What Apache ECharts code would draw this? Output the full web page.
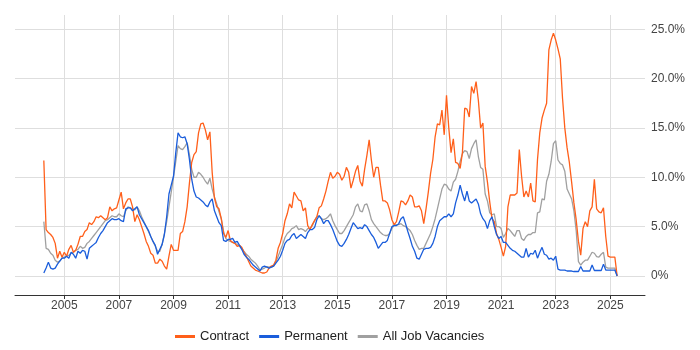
<!DOCTYPE html>
<html>
<head>
<meta charset="utf-8">
<script src="https://cdn.jsdelivr.net/npm/echarts@6/dist/echarts.min.js"></script>
<style>html,body{margin:0;padding:0;background:#fff}#c{width:700px;height:350px}</style>
</head>
<body>
<div id="c"></div>
<script>
// Monthly series, first point April 2004, last point April 2025
const startYear = 2004, startMonth = 4;
const contract = [
11.7,4.7,4.4,4.2,3.9,3.3,1.8,2.5,1.9,2.4,
2.0,2.7,3.1,2.4,2.6,3.2,4.0,4.0,4.5,4.7,
5.4,5.2,5.5,6.0,5.9,6.1,5.9,5.7,5.9,7.0,
6.6,6.8,6.9,7.7,8.5,6.8,7.4,7.8,7.8,7.0,
5.5,6.2,5.7,5.0,4.3,3.5,3.0,2.3,2.1,1.3,
1.3,1.7,1.5,1.0,0.7,2.0,3.2,2.6,2.6,2.6,
4.3,4.5,5.5,7.0,9.4,11.5,12.3,12.6,14.5,15.4,
15.5,14.8,13.8,14.6,10.5,7.9,7.0,6.8,5.8,4.3,
3.9,4.6,3.6,3.4,3.3,3.0,3.1,2.9,2.4,2.0,
1.5,1.0,0.8,0.6,0.5,0.4,0.3,0.3,0.4,0.8,
1.0,1.1,1.6,2.8,3.4,4.3,5.6,6.3,7.3,6.9,
8.5,8.1,7.7,7.6,6.6,6.9,5.1,4.7,5.2,5.6,
6.0,6.9,7.1,7.8,8.6,9.6,10.5,9.9,10.1,10.5,
10.3,9.7,10.1,11.0,10.5,8.9,9.7,10.6,11.2,9.6,
9.1,10.8,12.2,13.8,11.7,10.0,11.0,11.0,9.2,7.6,
7.6,7.4,6.7,5.7,5.2,5.5,6.5,7.6,7.5,7.2,
7.6,8.2,8.0,7.0,7.0,7.1,6.6,5.3,6.8,8.5,
10.4,11.8,14.1,15.4,15.3,16.8,14.3,18.3,15.0,12.5,
13.9,11.5,11.4,10.9,12.5,17.0,16.9,16.1,19.2,18.5,
19.7,17.8,15.0,15.5,11.1,9.5,7.5,5.8,5.5,4.3,
3.7,2.9,2.0,3.0,7.0,8.2,8.2,8.2,8.4,12.8,
10.1,8.0,8.6,8.0,9.4,7.6,7.5,11.8,14.5,16.0,
16.8,17.5,22.9,23.9,24.6,23.9,23.0,22.0,18.0,15.0,
13.0,11.5,9.5,7.4,5.7,3.5,2.1,4.8,5.5,5.0,
6.6,7.0,9.8,6.8,6.5,6.4,6.9,4.0,2.0,1.9,
1.9,1.9,0
];
const permanent = [
0.3,0.8,1.4,0.8,0.7,0.8,1.2,1.5,1.8,1.8,
2.0,1.8,2.4,2.2,1.8,2.5,2.3,2.6,2.5,1.7,
2.8,3.0,3.2,3.4,3.9,4.3,4.6,5.0,5.4,5.6,
5.8,5.7,5.7,5.8,5.6,5.5,6.8,6.9,6.9,6.6,
6.8,7.0,6.2,5.8,5.4,5.0,4.6,4.0,3.5,3.1,
2.2,2.7,3.2,4.2,6.0,8.3,9.2,10.1,12.5,14.5,
14.1,14.0,14.1,13.4,11.8,9.8,8.6,8.0,7.9,7.7,
7.5,7.2,7.0,7.5,7.8,6.6,6.0,5.4,5.1,3.6,
3.5,3.7,3.7,3.8,3.4,3.5,3.1,2.7,2.2,1.9,
1.7,1.4,1.1,0.9,0.7,0.5,0.9,1.0,0.9,0.8,
0.9,1.0,1.3,1.6,2.0,2.6,3.3,3.6,3.7,4.1,
4.3,3.8,4.0,4.2,4.0,3.8,4.4,4.7,4.7,4.9,
5.7,6.1,5.8,5.3,5.6,5.6,5.2,4.7,4.1,3.5,
3.1,3.0,3.3,3.7,4.2,4.8,5.4,5.1,4.8,4.9,
4.8,5.2,5.0,4.6,4.2,3.9,3.4,2.8,3.1,3.4,
3.4,3.6,4.3,5.0,5.1,5.1,5.3,5.8,6.0,5.3,
4.5,3.8,3.0,2.5,1.8,1.7,2.2,2.7,2.8,2.8,
2.9,3.3,4.0,5.0,5.6,5.8,6.0,6.0,6.3,6.0,
6.3,7.4,8.2,9.2,8.3,7.6,8.6,7.6,7.4,7.6,
7.8,7.3,6.3,5.8,5.5,4.8,5.6,6.0,5.0,4.2,
3.8,4.0,3.4,3.4,3.1,2.8,2.6,2.5,2.3,2.1,
1.9,1.9,2.8,1.9,2.3,2.2,2.6,1.8,2.4,2.9,
2.2,2.1,1.7,1.8,1.6,2.0,0.7,0.6,0.6,0.6,
0.5,0.5,0.5,0.45,0.45,0.45,0.95,0.5,0.5,0.5,
0.5,1.1,0.55,0.55,0.55,0.55,1.2,0.6,0.6,0.6,
0.6,0.6,0
];
const allJobs = [
5.5,2.8,2.7,2.3,2.1,1.6,1.4,1.5,1.8,1.9,
2.0,2.1,2.3,2.4,2.6,2.7,3.0,2.8,2.9,3.3,
3.5,3.8,4.1,4.4,4.7,5.0,5.3,5.6,5.7,5.9,
6.1,6.0,6.0,6.3,6.1,6.0,6.6,7.0,6.9,6.8,
6.7,7.0,6.6,6.0,5.5,5.0,4.5,4.0,3.5,3.0,
2.5,2.5,3.2,4.3,5.5,7.0,8.5,10.0,11.6,13.2,
12.9,12.8,13.1,13.5,12.3,10.8,10.0,10.0,10.5,10.3,
10.0,9.6,9.3,9.9,8.8,8.0,7.3,6.5,5.8,4.5,
3.8,3.6,3.5,3.4,3.3,3.2,3.0,2.8,2.5,2.2,
2.0,1.7,1.5,1.3,1.0,0.6,0.7,0.8,0.95,0.9,
0.9,1.0,1.4,2.0,2.6,3.2,3.9,4.3,4.5,4.8,
4.9,5.1,4.7,4.8,4.7,4.5,4.8,4.8,5.1,5.6,
6.0,6.1,5.8,5.7,5.8,6.0,6.3,5.6,5.1,4.7,
4.3,4.3,4.6,5.0,5.4,5.8,6.2,7.0,7.3,6.6,
6.5,7.2,7.3,6.6,5.7,5.3,5.0,4.7,4.4,4.2,
4.1,4.1,4.3,4.8,5.2,5.2,5.2,5.3,5.1,5.0,
4.8,4.6,4.2,3.6,3.1,2.7,2.8,2.8,3.3,3.8,
4.3,5.0,5.8,6.8,7.8,8.8,9.3,9.2,8.8,8.6,
9.5,9.8,10.6,11.6,12.4,12.7,12.6,11.9,12.9,13.4,
13.8,12.1,11.0,10.8,8.3,7.6,6.4,6.2,6.3,5.0,
5.0,4.8,3.9,4.3,4.8,4.6,4.3,4.0,4.6,4.6,
3.8,3.6,4.0,4.2,4.2,4.4,4.4,6.4,6.5,7.8,
7.7,9.6,10.3,11.6,13.4,13.7,11.75,11.4,11.25,10.6,
8.8,8.3,7.8,6.6,4.6,1.45,1.1,1.4,1.6,1.6,
2.0,2.4,2.3,1.96,1.9,2.2,2.4,0.9,0.8,0.8,
0.8,0.8,0
];
const yearTicks = [2005,2007,2009,2011,2013,2015,2017,2019,2021,2023,2025];
const percentTicks = [0,5,10,15,20,25];
const seriesNames = ['Contract','Permanent','All Job Vacancies'];

const monthX = contract.map((_, i) => startYear + (startMonth - 1 + i) / 12);
const pairs = arr => arr.map((v, i) => [monthX[i], v]);

const chart = echarts.init(document.getElementById('c'), null, {renderer: 'canvas'});
const FONT = 'Liberation Sans, Arial, sans-serif';
chart.setOption({
  animation: false,
  backgroundColor: '#fff',
  grid: {left: 15, right: 55, top: 15, bottom: 55, containLabel: false},
  legend: {
    left: 170, top: 325,
    itemWidth: 20, itemHeight: 3, itemGap: 10,
    icon: 'rect',
    textStyle: {fontFamily: FONT, fontSize: 13, color: '#222'},
    data: seriesNames
  },
  xAxis: {
    type: 'value',
    min: 2003.194, max: 2026.271,
    axisLine: {onZero: false, lineStyle: {color: '#333', width: 1}},
    axisTick: {show: true, length: 4, customValues: yearTicks, lineStyle: {color: '#333'}},
    axisLabel: {customValues: yearTicks, formatter: v => String(v), fontFamily: FONT, fontSize: 12, color: '#444', margin: 5},
    splitLine: {show: true, lineStyle: {color: '#dedede', width: 1}}
  },
  yAxis: {
    type: 'value',
    position: 'right',
    min: -1.93, max: 26.44,
    axisLine: {show: false},
    axisTick: {show: false, customValues: percentTicks},
    axisLabel: {customValues: percentTicks, formatter: v => v === 0 ? '0%' : v.toFixed(1) + '%', fontFamily: FONT, fontSize: 12, color: '#444', margin: 6},
    splitLine: {show: true, lineStyle: {color: '#dedede', width: 1}}
  },
  series: [
    {name: seriesNames[0], type: 'line', data: pairs(contract), showSymbol: false, symbol: 'none', z: 3,
     color: '#ff5f1a', lineStyle: {width: 1.3, color: '#ff5f1a'}},
    {name: seriesNames[1], type: 'line', data: pairs(permanent), showSymbol: false, symbol: 'none', z: 4,
     color: '#1a5ddb', lineStyle: {width: 1.3, color: '#1a5ddb'}},
    {name: seriesNames[2], type: 'line', data: pairs(allJobs), showSymbol: false, symbol: 'none', z: 2,
     color: '#a0a0a0', lineStyle: {width: 1.3, color: '#a0a0a0'}}
  ]
});
</script>
</body>
</html>
